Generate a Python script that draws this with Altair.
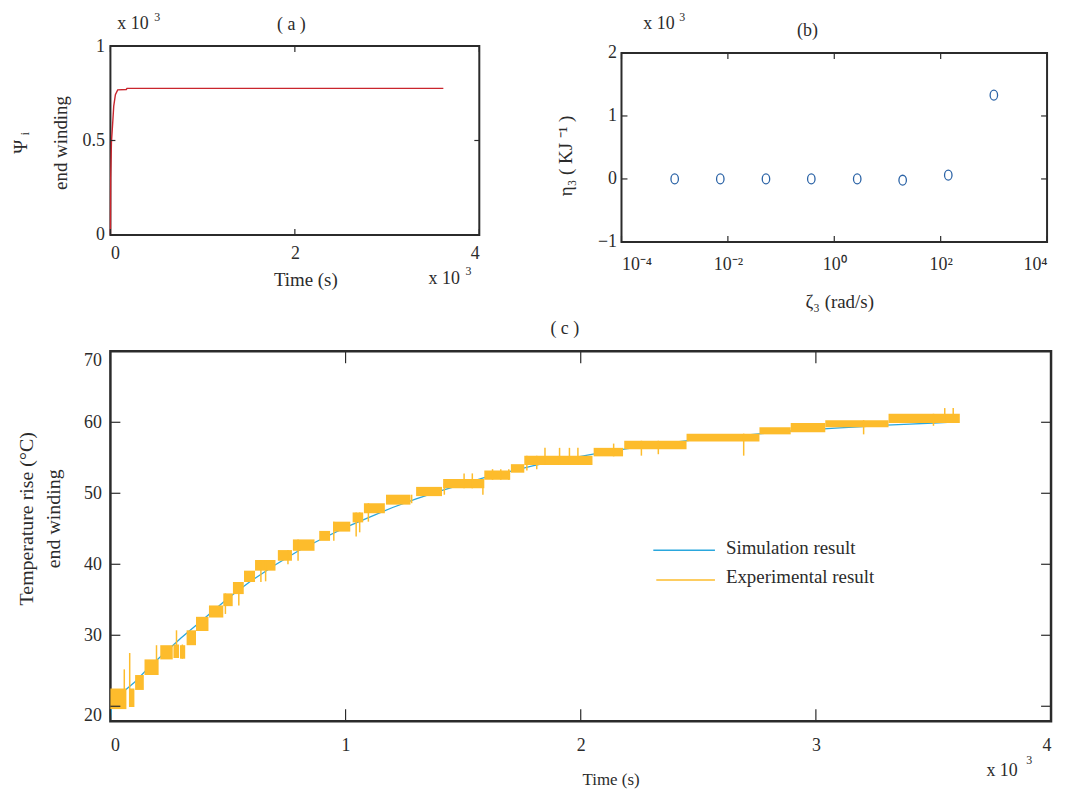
import altair as alt
import pandas as pd

FONT = "Liberation Serif"
INK = "#2b2b2b"
RED = "#c9252d"
NAVY = "#2b63a6"
BLUE = "#2aa7dd"
ORANGE = "#fdbc2c"

# ---------------- Panel (a) ----------------
a_time = [0, 3, 11, 25, 36, 54, 79, 172, 180, 3610]
a_psi = [0.0, 0.30, 0.49, 0.595, 0.682, 0.743, 0.768, 0.770, 0.776, 0.776]
a_xticks = [0, 2000, 4000]
a_yticks = [0, 0.5, 1]

# ---------------- Panel (b) ----------------
b_zeta = [0.001, 0.0072, 0.052, 0.37, 2.7, 19.3, 139, 1000]
b_eta = [0.0, 0.0, 0.0, 0.0, 0.0, -0.02, 0.06, 1.33]
b_xticks = [1e-4, 1e-2, 1, 1e2, 1e4]
b_xlabels = ["10⁻⁴", "10⁻²", "10⁰", "10²", "10⁴"]
b_yticks = [-1, 0, 1, 2]

# ---------------- Panel (c) ----------------
sim_time = [0, 5, 30, 60, 100, 150, 200, 250, 300, 400, 500, 600, 700, 800, 900, 1000,
            1100, 1200, 1300, 1400, 1500, 1600, 1700, 1800, 1900, 2000, 2100, 2200, 2300,
            2400, 2500, 2600, 2700, 2800, 2900, 3000, 3100, 3200, 3300, 3400, 3500, 3600]
sim_temp = [18.0, 20.0, 21.3, 22.2, 23.3, 25.0, 26.6, 28.1, 29.6, 32.4, 35.2, 37.7, 39.9,
            41.9, 43.6, 45.2, 46.6, 48.0, 49.2, 50.3, 51.3, 52.3, 53.1, 53.9, 54.6, 55.2,
            55.8, 56.3, 56.8, 57.2, 57.6, 57.9, 58.2, 58.5, 58.8, 59.0, 59.2, 59.4, 59.6,
            59.75, 59.9, 60.05]

# experimental record: dense flicker between adjacent sensor levels (start, end, low, high)
exp_t0 = [0, 80, 105, 145, 212, 268, 296, 324, 364, 419, 480, 521, 568, 615, 712, 776,
          888, 947, 1030, 1078, 1172, 1300, 1415, 1590, 1703, 1760, 2055, 2185, 2450,
          2760, 2893, 3040, 3309]
exp_t1 = [68, 102, 142, 205, 265, 292, 318, 364, 417, 480, 520, 567, 615, 702, 772, 868,
          934, 1020, 1075, 1167, 1276, 1410, 1590, 1700, 1760, 2050, 2180, 2450, 2760,
          2893, 3040, 3309, 3612]
exp_lo = [19.6, 19.9, 22.3, 24.4, 26.6, 26.8, 26.7, 28.6, 30.6, 32.5, 34.1, 35.8, 37.5,
          39.1, 40.5, 41.9, 43.3, 44.6, 45.9, 47.2, 48.4, 49.6, 50.7, 51.9, 52.9, 54.0,
          55.2, 56.2, 57.3, 58.3, 58.6, 59.3, 59.9]
exp_hi = [22.5, 22.5, 24.4, 26.6, 28.6, 28.7, 28.6, 30.7, 32.6, 34.2, 35.9, 37.5, 39.1,
          40.6, 42.0, 43.5, 44.7, 46.0, 47.3, 48.6, 49.8, 50.9, 52.0, 53.2, 54.1, 55.3,
          56.4, 57.4, 58.4, 59.3, 59.9, 60.3, 61.2]
spike_t = [59, 82, 196, 281, 306, 489, 546, 640, 660, 755, 798, 950, 1045, 1060, 1097,
           1281, 1420, 1504, 1539, 1584, 1625, 1660, 1694, 1771, 1813, 1848, 1910, 1952,
           1988, 2140, 2258, 2330, 2693, 3203, 3500, 3548, 3584]
spike_lo = [19.7, 19.9, 24.6, 26.8, 26.7, 33.0, 34.2, 37.5, 37.6, 40.0, 40.5, 43.3, 43.9,
            44.5, 46.0, 48.6, 49.8, 50.7, 50.7, 49.8, 51.9, 51.9, 51.9, 53.2, 53.4, 54.0,
            54.0, 54.0, 54.0, 55.2, 55.3, 55.5, 55.3, 58.3, 59.5, 59.9, 59.9]
spike_hi = [25.2, 27.5, 28.6, 30.7, 28.7, 35.9, 37.5, 40.5, 40.5, 42.0, 43.5, 46.0, 47.3,
            47.3, 48.6, 49.8, 51.4, 52.8, 52.8, 52.0, 53.4, 53.4, 53.4, 55.3, 55.3, 56.4,
            56.4, 56.4, 56.4, 57.0, 57.4, 57.4, 58.4, 60.3, 61.2, 62.0, 62.0]
c_xticks = [0, 1000, 2000, 3000, 4000]
c_yticks = [20, 30, 40, 50, 60, 70]
legend_labels = ["Simulation result", "Experimental result"]

ONE = pd.DataFrame({"k": [0]})


def axis(**kw):
    base = dict(ticks=False, domain=False, grid=False, labelFont=FONT, labelFontSize=18,
                labelColor=INK, titleFont=FONT, titleFontSize=19, titleFontWeight="normal",
                titleColor=INK, labelOverlap=False, titleAlign="center",
                titleBaseline="middle")
    base.update(kw)
    return alt.Axis(**base)


def frame_ticks(xs, ys, xfield, yfield, xscale, yscale, W, H, xlen, ylen):
    # inward tick marks on all four sides; same field names as the main layer,
    # no axis settings of their own (the main layer's explicit axis wins)
    dx = pd.DataFrame({xfield: xs})
    dy = pd.DataFrame({yfield: ys})
    X = alt.X(f"{xfield}:Q", scale=xscale)
    Y = alt.Y(f"{yfield}:Q", scale=yscale)
    st = dict(color=INK, strokeWidth=1.2)
    return [
        alt.Chart(dx).mark_rule(**st).encode(x=X, y=alt.value(H), y2=alt.value(H - xlen)),
        alt.Chart(dx).mark_rule(**st).encode(x=X, y=alt.value(0), y2=alt.value(xlen)),
        alt.Chart(dy).mark_rule(**st).encode(y=Y, x=alt.value(0), x2=alt.value(ylen)),
        alt.Chart(dy).mark_rule(**st).encode(y=Y, x=alt.value(W), x2=alt.value(W - ylen)),
    ]


def label(text, x, y, size=18, align="left"):
    return alt.Chart(ONE).mark_text(text=text, font=FONT, fontSize=size, color=INK,
                                    align=align, baseline="middle").encode(
        x=alt.value(x), y=alt.value(y))


# ---------------- build (a) ----------------
W_A, H_A = 371, 190
sx_a = alt.Scale(domain=[0, 4000], nice=False, zero=False)
sy_a = alt.Scale(domain=[0, 1], nice=False, zero=False)
df_a = pd.DataFrame({"t": a_time, "psi": a_psi})
a_line = alt.Chart(df_a).mark_line(color=RED, strokeWidth=1.4).encode(
    x=alt.X("t:Q", scale=sx_a, axis=axis(values=a_xticks, labelExpr="format(datum.value/1000, 'd')",
                                          labelPadding=10, labelFlush=True, title="Time (s)",
                                          titleX=196, titleY=45, titleAngle=0)),
    y=alt.Y("psi:Q", scale=sy_a, axis=axis(values=a_yticks, format="~g", labelPadding=6,
                                            title=["Ψ ᵢ", "end winding"], titleX=-90, titleY=97,
                                            titleAngle=270, titleLineHeight=40)),
)
chart_a = alt.layer(
    a_line,
    *frame_ticks(a_xticks, a_yticks, "t", "psi", sx_a, sy_a, W_A, H_A, 6, 5),
    label("( a )", 182, -21, align="center"),
    label("x 10", 7, -22),
    label("3", 44, -29, size=12),
    label("x 10", 320, 234),
    label("3", 357, 226, size=12),
).properties(width=W_A, height=H_A, view=alt.ViewBackground(stroke=INK, strokeWidth=2))

# ---------------- build (b) ----------------
W_B, H_B = 428, 190
sx_b = alt.Scale(type="log", domain=[1e-4, 1e4], nice=False)
sy_b = alt.Scale(domain=[-1, 2], nice=False, zero=False)
df_b = pd.DataFrame({"zeta": b_zeta, "eta": b_eta})
b_expr = ("datum.value >= 1000 ? '{4}' : datum.value >= 10 ? '{3}' : datum.value >= 0.1 ? '{2}' : "
          "datum.value >= 0.001 ? '{1}' : '{0}'").format(*b_xlabels)
ELLIPSE = "M -0.75 0 A 0.75 1 0 1 0 0.75 0 A 0.75 1 0 1 0 -0.75 0 Z"
b_pts = alt.Chart(df_b).mark_point(shape=ELLIPSE, size=100, filled=False, color=NAVY,
                                   strokeWidth=1.3, opacity=1).encode(
    x=alt.X("zeta:Q", scale=sx_b, axis=axis(values=b_xticks, labelExpr=b_expr, labelPadding=14,
                                             labelFlush=True, title="ζ₃  (rad/s)",
                                             titleX=219, titleY=60, titleAngle=0)),
    y=alt.Y("eta:Q", scale=sy_b, axis=axis(values=b_yticks, format="d", labelPadding=5,
                                            title="η₃ ( KJ ⁻¹ )", titleX=-56, titleY=103,
                                            titleAngle=270)),
)
chart_b = alt.layer(
    b_pts,
    *frame_ticks(b_xticks, b_yticks, "zeta", "eta", sx_b, sy_b, W_B, H_B, 6, 6),
    label("(b)", 187, -22, align="center"),
    label("x 10", 22, -29),
    label("3", 58, -36, size=12),
).properties(width=W_B, height=H_B, view=alt.ViewBackground(stroke=INK, strokeWidth=2))

spacer = alt.Chart(ONE).mark_point(opacity=0).properties(
    width=1, height=7, view=alt.ViewBackground(stroke="transparent"))
b_col = alt.vconcat(spacer, chart_b, spacing=0, bounds="flush")

# ---------------- build (c) ----------------
W_C, H_C = 946, 372
sx_c = alt.Scale(domain=[0, 4000], nice=False, zero=False)
sy_c = alt.Scale(domain=[17.9, 70], nice=False, zero=False)
df_sim = pd.DataFrame({"t": sim_time, "temp": sim_temp})
df_exp = pd.DataFrame({"t": exp_t0, "t1": exp_t1, "temp": exp_lo, "hi": exp_hi})
df_spk = pd.DataFrame({"t": spike_t, "temp": spike_lo, "hi": spike_hi})

sim_line = alt.Chart(df_sim).mark_line(color=BLUE, strokeWidth=1.3).encode(
    x=alt.X("t:Q", scale=sx_c, axis=axis(values=c_xticks, labelExpr="format(datum.value/1000, 'd')",
                                          labelPadding=15, labelFlush=True, title="Time (s)",
                                          titleFontSize=17, titleX=503, titleY=59, titleAngle=0)),
    y=alt.Y("temp:Q", scale=sy_c, axis=axis(
        values=c_yticks, format="d", labelPadding=9,
        labelOffset={"condition": {"test": "datum.value == 70 || datum.value == 20", "value": 9},
                     "value": 0},
        title=["Temperature rise (°C)", "end winding"], titleFontSize=20,
        titleX=-84, titleY=168, titleAngle=270, titleLineHeight=27)),
)
exp_blocks = alt.Chart(df_exp).mark_rect(color=ORANGE).encode(
    x=alt.X("t:Q", scale=sx_c), x2="t1:Q",
    y=alt.Y("temp:Q", scale=sy_c), y2="hi:Q",
)
exp_spikes = alt.Chart(df_spk).mark_rule(color=ORANGE, strokeWidth=1.5).encode(
    x=alt.X("t:Q", scale=sx_c),
    y=alt.Y("temp:Q", scale=sy_c), y2="hi:Q",
)
leg_sim = alt.Chart(ONE).mark_rule(color=BLUE, strokeWidth=1.5).encode(
    x=alt.value(546), x2=alt.value(608), y=alt.value(200))
leg_exp = alt.Chart(ONE).mark_rule(color=ORANGE, strokeWidth=1.5).encode(
    x=alt.value(549), x2=alt.value(608), y=alt.value(230))

chart_c = alt.layer(
    sim_line, exp_blocks, exp_spikes,
    *frame_ticks(c_xticks, c_yticks, "t", "temp", sx_c, sy_c, W_C, H_C, 12, 10),
    leg_sim, leg_exp,
    label(legend_labels[0], 619, 198, size=19),
    label(legend_labels[1], 619, 227, size=19),
    label("( c )", 457, -22, align="center"),
    label("x 10", 881, 422),
    label("3", 921, 411.5, size=12),
).properties(width=W_C, height=H_C, view=alt.ViewBackground(stroke=INK, strokeWidth=2.5))

top = alt.hconcat(chart_a, b_col, spacing=143, bounds="flush")
# with flush bounds a nested concat row counts as zero height, so the spacing
# carries the whole offset from the top row's origin to panel (c)
chart = alt.vconcat(top, chart_c, spacing=307, bounds="flush").properties(
    padding={"left": 3, "top": 0, "right": 4, "bottom": 4}
).configure(font=FONT).configure_view(stroke=INK, strokeWidth=2)

chart.save("out.html", embed_options={"renderer": "svg", "actions": False})
